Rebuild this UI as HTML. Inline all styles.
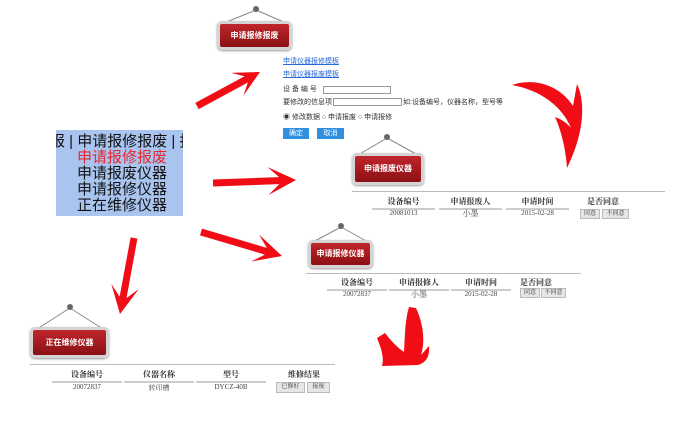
<!DOCTYPE html>
<html><head><meta charset="utf-8"><style>
*{margin:0;padding:0;box-sizing:border-box}
body{width:700px;height:426px;background:#fff;position:relative;overflow:hidden;font-family:"Liberation Serif","Noto Serif CJK SC",serif;color:#333}
.a{position:absolute;white-space:nowrap}
.menu{position:absolute;left:56px;top:130px;width:127px;height:86px;background:#a9c4ef;overflow:hidden;font-family:"Liberation Sans","Noto Sans CJK SC",sans-serif;font-size:15px;line-height:16px;color:#111}
.sign{position:absolute;border:3px solid #d4d4d4;border-radius:5px;background:linear-gradient(#c0262c,#8a1014);color:#fff;font-size:8px;font-weight:bold;text-align:center;box-shadow:0 1px 2px #999;font-family:"Liberation Sans","Noto Sans CJK SC",sans-serif}
.hr{position:absolute;height:1px;background:#bbb}
.th{position:absolute;font-size:8px;font-weight:bold;text-align:center;border-bottom:2px solid #ccc;padding-bottom:1px}
.td{position:absolute;font-size:7px;text-align:center;color:#444}
.btn{position:absolute;background:#e6e6e6;border:1px solid #bbb;font-size:6px;text-align:center;line-height:9px;color:#333}
.lk{position:absolute;color:#2a6ad8;text-decoration:underline;font-size:7px;font-family:"Liberation Sans","Noto Sans CJK SC",sans-serif}
.f{font-size:7px;font-family:"Liberation Sans","Noto Sans CJK SC",sans-serif;color:#333}
.inp{position:absolute;border:1px solid #999;background:#fff;height:8px}
.bb{position:absolute;background:#2f8fe0;color:#fff;font-size:7px;text-align:center;line-height:11px;font-family:"Liberation Sans","Noto Sans CJK SC",sans-serif}
</style></head><body>
<svg id="s" width="700" height="426" style="position:absolute;left:0;top:0">
<g stroke="#888" stroke-width="1" fill="none">
<path d="M256 10 L224 23 M256 10 L286 23"/>
<path d="M387 138 L358 155 M387 138 L418 155"/>
<path d="M341 227 L313 242 M341 227 L368 242"/>
<path d="M70 308 L37 329 M70 308 L103 329"/>
</g>
<g fill="#666"><ellipse cx="256" cy="9" rx="3" ry="3"/><ellipse cx="387" cy="137" rx="3" ry="3"/><ellipse cx="341" cy="226" rx="3" ry="3"/><ellipse cx="70" cy="307" rx="3" ry="3"/></g>
<g id="ar" fill="#f00d15"></g>
<path fill="#f00d15" d="M512 85 C540 76 563 90 573 106 L577 84 C583 96 588 125 567 168 C566 150 561 130 555 117 C561 119 567 123 571 128 C562 106 540 90 512 85 Z"/>
<path fill="#f00d15" d="M409 307 L416 308 C424 325 425 343 421 355 L429 346 C430 358 425 363 418 365 L382 366 C384 358 382 350 377 338 L385 333 C392 342 398 348 404 352 C405 335 405 320 409 307 Z"/>
</svg>
<div class="menu"><div class="a" style="left:-6px;top:4px">报 | 申请报修报废 | 报</div>
<div class="a" style="left:21px;top:20px;color:#e8262e">申请报修报废</div>
<div class="a" style="left:21px;top:36px">申请报废仪器</div>
<div class="a" style="left:21px;top:52px">申请报修仪器</div>
<div class="a" style="left:21px;top:68px">正在维修仪器</div></div>

<div class="sign" style="left:217px;top:21px;width:75px;height:29px;line-height:23px">申请报修报废</div>
<div class="lk" style="left:283px;top:56px">申请仪器报修模板</div>
<div class="lk" style="left:283px;top:69px">申请仪器报废模板</div>
<div class="a f" style="left:283px;top:84px">设 备 编 号</div><div class="inp" style="left:323px;top:86px;width:68px"></div>
<div class="a f" style="left:283px;top:97px">要修改的信息项</div><div class="inp" style="left:333px;top:98px;width:69px"></div>
<div class="a f" style="left:403px;top:97px">如:设备编号，仪器名称，型号等</div>
<div class="a f" style="left:283px;top:112px">◉ 修改数据 ○ 申请报废 ○ 申请报修</div>
<div class="bb" style="left:283px;top:128px;width:26px;height:11px">确定</div>
<div class="bb" style="left:317px;top:128px;width:27px;height:11px">取消</div>

<div class="sign" style="left:352px;top:153px;width:72px;height:32px;line-height:26px">申请报废仪器</div>
<div class="hr" style="left:352px;top:191px;width:313px"></div>
<div class="th" style="left:372px;top:196px;width:63px">设备编号</div>
<div class="th" style="left:439px;top:196px;width:63px">申请报废人</div>
<div class="th" style="left:506px;top:196px;width:63px">申请时间</div>
<div class="a" style="left:587px;top:196px;font-size:8px;font-weight:bold">是否同意</div>
<div class="td" style="left:372px;top:209px;width:63px">20081013</div>
<div class="td" style="left:439px;top:208px;width:63px;font-size:8px">小墨</div>
<div class="td" style="left:506px;top:209px;width:63px">2015-02-28</div>
<div class="btn" style="left:580px;top:209px;width:20px;height:10px">同意</div>
<div class="btn" style="left:602px;top:209px;width:27px;height:10px">不同意</div>

<div class="sign" style="left:308px;top:240px;width:65px;height:28px;line-height:22px">申请报修仪器</div>
<div class="hr" style="left:306px;top:273px;width:275px"></div>
<div class="th" style="left:327px;top:277px;width:60px">设备编号</div>
<div class="th" style="left:389px;top:277px;width:60px">申请报修人</div>
<div class="th" style="left:451px;top:277px;width:60px">申请时间</div>
<div class="a" style="left:520px;top:277px;font-size:8px;font-weight:bold">是否同意</div>
<div class="td" style="left:327px;top:290px;width:60px">20072837</div>
<div class="td" style="left:389px;top:289px;width:60px;font-size:8px">小墨</div>
<div class="td" style="left:451px;top:290px;width:60px">2015-02-28</div>
<div class="btn" style="left:520px;top:288px;width:20px;height:10px">同意</div>
<div class="btn" style="left:541px;top:288px;width:25px;height:10px">不同意</div>

<div class="sign" style="left:30px;top:327px;width:79px;height:31px;line-height:25px">正在维修仪器</div>
<div class="hr" style="left:30px;top:364px;width:305px"></div>
<div class="th" style="left:52px;top:369px;width:70px">设备编号</div>
<div class="th" style="left:124px;top:369px;width:70px">仪器名称</div>
<div class="th" style="left:196px;top:369px;width:70px">型号</div>
<div class="a" style="left:288px;top:369px;font-size:8px;font-weight:bold">维修结果</div>
<div class="td" style="left:52px;top:383px;width:70px">20072837</div>
<div class="td" style="left:124px;top:383px;width:70px">转印槽</div>
<div class="td" style="left:196px;top:383px;width:70px">DYCZ-40B</div>
<div class="btn" style="left:276px;top:382px;width:29px;height:11px">已修好</div>
<div class="btn" style="left:307px;top:382px;width:23px;height:11px">报废</div>
<script>
function arrow(x1,y1,x2,y2,sw,hl,hw){
 var dx=x2-x1,dy=y2-y1,L=Math.hypot(dx,dy),ux=dx/L,uy=dy/L,nx=-uy,ny=ux;
 function p(a,b){return (x2-ux*a+nx*b).toFixed(1)+","+(y2-uy*a+ny*b).toFixed(1)}
 var pts=[p(0,0),p(hl,hw),p(hl*0.6,sw/2),p(L,sw/2),p(L,-sw/2),p(hl*0.6,-sw/2),p(hl,-hw)];
 var e=document.createElementNS("http://www.w3.org/2000/svg","polygon");
 e.setAttribute("points",pts.join(" "));document.getElementById("ar").appendChild(e);
}
arrow(197,106,260,72,7,26,13);
arrow(213,183,296,180,7,28,14);
arrow(201,232,282,256,7,28,14);
arrow(134,238,120,314,7,28,14);
</script>
</body></html>
